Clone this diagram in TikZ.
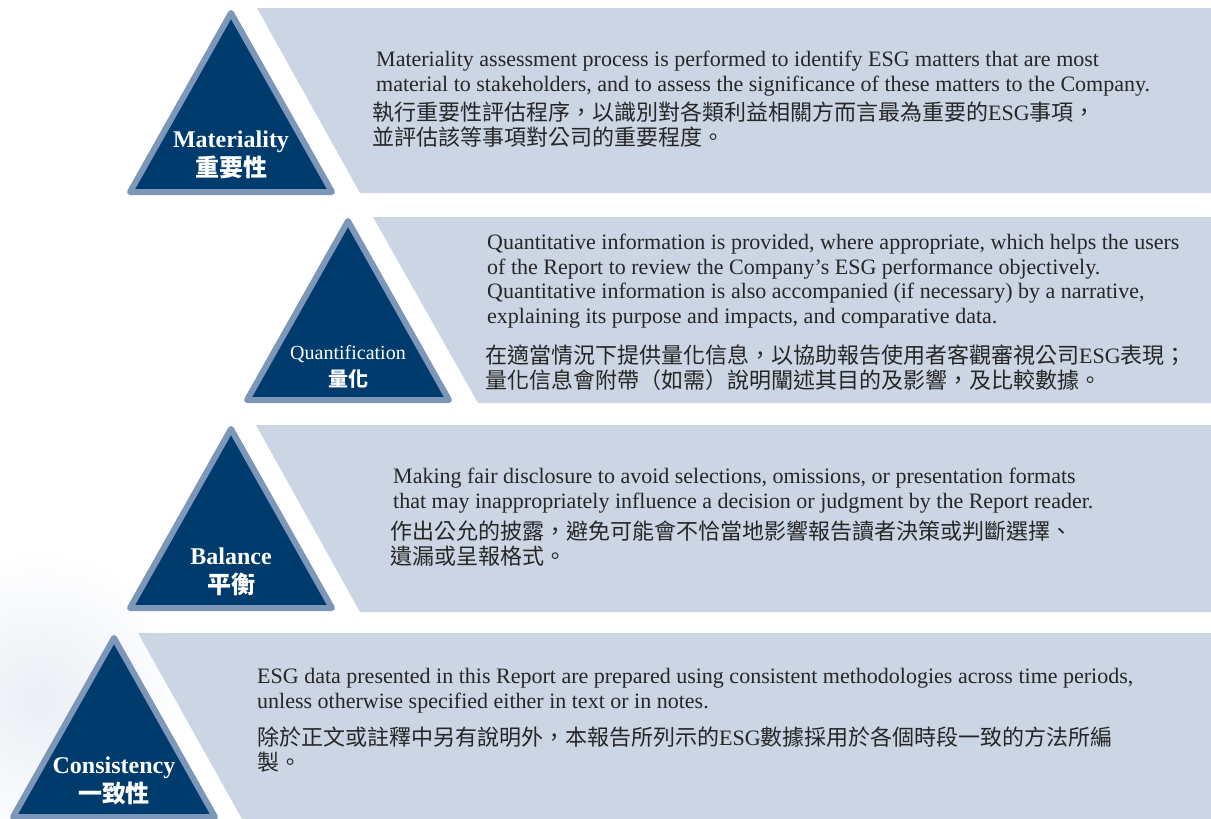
\documentclass[tikz,border=0pt]{standalone}
\usepackage{fontspec}
\setmainfont{Liberation Serif}
\newfontfamily\cjk{Noto Sans CJK TC}
\definecolor{navy}{HTML}{003B6E}
\definecolor{edgeblue}{HTML}{7C97B7}
\definecolor{bandgray}{HTML}{CBD5E4}
\definecolor{txtgray}{HTML}{262626}

\begin{document}
\begin{tikzpicture}[x=1pt, y=-1pt,
    band/.style={fill=bandgray},
    tri/.style={fill=navy, draw=edgeblue, line width=6pt, line join=round},
    lbl/.style={text=white, align=center, inner sep=0pt, font=\fontsize{24}{28.5}\selectfont\bfseries},
    entext/.style={anchor=base west, align=left, inner sep=0pt, text=txtgray, font=\fontsize{22}{24.5}\selectfont},
    zhtext/.style={anchor=base west, align=left, inner sep=0pt, text=txtgray, font=\fontsize{22}{25}\selectfont\cjk}]
    \useasboundingbox (0,0) rectangle (1211,819);
    \shade[inner color=bandgray!40, outer color=white] (40,700) circle (150);

    % Materiality
    \fill[band] (257,8) -- (1211,8) -- (1211,193) -- (360,193) -- cycle;
    \draw[tri] (231,13) -- (130,192) -- (332,192) -- cycle;
    \node[lbl] (mat) at (231,155) {Materiality\\{\cjk 重要性}};
    \node[entext] (matEn) at (376,91)
        {Materiality assessment process is performed to identify ESG matters that are most\\
         material to stakeholders, and to assess the significance of these matters to the Company.};
    \node[zhtext] (matZh) at (372,145)
        {執行重要性評估程序，以識別對各類利益相關方而言最為重要的{\rmfamily ESG}事項，\\
         並評估該等事項對公司的重要程度。};

    % Quantification
    \fill[band] (373,217) -- (1211,217) -- (1211,403) -- (478,403) -- cycle;
    \draw[tri] (348,221) -- (247,400) -- (449,400) -- cycle;
    \node[lbl, font=\fontsize{20}{27}\selectfont] (qua) at (348,367) {Quantification\\{\cjk\bfseries 量化}};
    \node[entext] (quaEn) at (487,323)
        {Quantitative information is provided, where appropriate, which helps the users\\
         of the Report to review the Company’s ESG performance objectively.\\
         Quantitative information is also accompanied (if necessary) by a narrative,\\
         explaining its purpose and impacts, and comparative data.};
    \node[zhtext] (quaZh) at (485,388)
        {在適當情況下提供量化信息，以協助報告使用者客觀審視公司{\rmfamily ESG}表現；\\
         量化信息會附帶（如需）說明闡述其目的及影響，及比較數據。};

    % Balance
    \fill[band] (256,425) -- (1211,425) -- (1211,612) -- (360,612) -- cycle;
    \draw[tri] (231,429) -- (130,608) -- (332,608) -- cycle;
    \node[lbl] (bal) at (231,572) {Balance\\{\cjk 平衡}};
    \node[entext] (balEn) at (393,508)
        {Making fair disclosure to avoid selections, omissions, or presentation formats\\
         that may inappropriately influence a decision or judgment by the Report reader.};
    \node[zhtext] (balZh) at (390,564)
        {作出公允的披露，避免可能會不恰當地影響報告讀者決策或判斷選擇、\\
         遺漏或呈報格式。};

    % Consistency
    \fill[band] (138,633) -- (1211,633) -- (1211,819) -- (242,819) -- cycle;
    \draw[tri] (114,638) -- (13,817) -- (215,817) -- cycle;
    \node[lbl] (con) at (114,781) {Consistency\\{\cjk 一致性}};
    \node[entext] (conEn) at (257,708)
        {ESG data presented in this Report are prepared using consistent methodologies across time periods,\\
         unless otherwise specified either in text or in notes.};
    \node[zhtext] (conZh) at (257,770)
        {除於正文或註釋中另有說明外，本報告所列示的{\rmfamily ESG}數據採用於各個時段一致的方法所編\\
         製。};
\end{tikzpicture}
\end{document}
